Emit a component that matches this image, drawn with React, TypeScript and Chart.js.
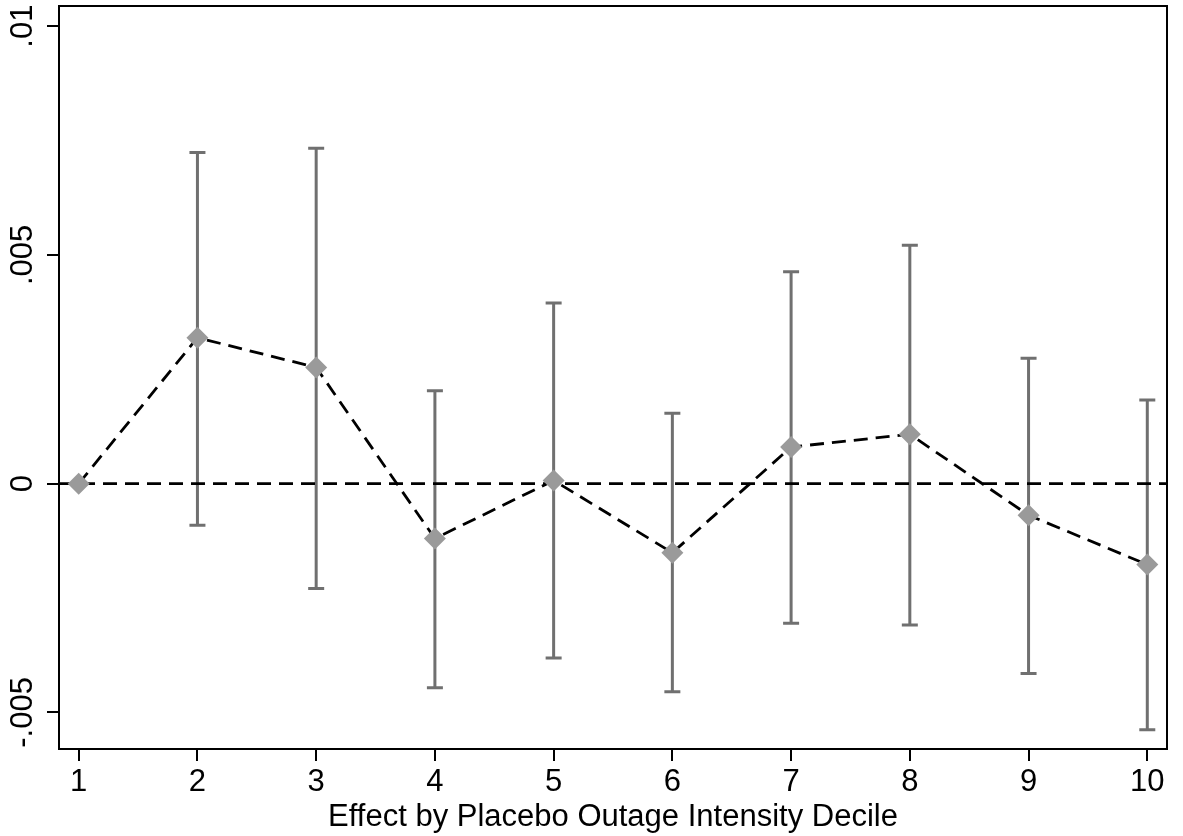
import React, { useEffect, useRef } from 'react';
import { Chart, registerables } from 'chart.js';

Chart.register(...registerables);

// ---- Data ----
const deciles = [1, 2, 3, 4, 5, 6, 7, 8, 9, 10];
const coefficients = [0, 0.00319, 0.00254, -0.0012, 0.00007, -0.00151, 0.0008, 0.00108, -0.00069, -0.00177];
const ciUpper: (number | null)[] = [null, 0.00724, 0.00733, 0.00203, 0.00395, 0.00154, 0.00463, 0.00521, 0.00274, 0.00183];
const ciLower: (number | null)[] = [null, -0.00091, -0.00229, -0.00446, -0.00381, -0.00455, -0.00305, -0.00309, -0.00415, -0.00538];
const xTickValues = [1, 2, 3, 4, 5, 6, 7, 8, 9, 10];
const yTickValues = [-0.005, 0, 0.005, 0.01];
const yTickLabels = ['-.005', '0', '.005', '.01'];
const xAxisTitle = 'Effect by Placebo Outage Intensity Decile';
const xRange = [0.834, 10.166];
const yRange = [-0.0058, 0.01044];

const FONT = '"Liberation Sans", Arial, Helvetica, sans-serif';
const FONT_SIZE = 31;

const errorBarPlugin = {
  id: 'errorBars',
  beforeDatasetsDraw(chart: any) {
    const { ctx, scales } = chart;
    const x = scales.x;
    const y = scales.y;
    ctx.save();
    ctx.strokeStyle = '#707070';
    ctx.lineWidth = 3;
    ctx.lineCap = 'butt';
    deciles.forEach((d, i) => {
      const hi = ciUpper[i];
      const lo = ciLower[i];
      if (hi == null || lo == null) return;
      const px = x.getPixelForValue(d);
      const pHi = y.getPixelForValue(hi);
      const pLo = y.getPixelForValue(lo);
      ctx.beginPath();
      ctx.moveTo(px, pHi);
      ctx.lineTo(px, pLo);
      ctx.moveTo(px - 8, pHi);
      ctx.lineTo(px + 8, pHi);
      ctx.moveTo(px - 8, pLo);
      ctx.lineTo(px + 8, pLo);
      ctx.stroke();
    });
    ctx.restore();
  },
};

const framePlugin = {
  id: 'frameAndYLabels',
  afterDraw(chart: any) {
    const { ctx, chartArea, scales } = chart;
    const y = scales.y;
    ctx.save();
    ctx.strokeStyle = '#000';
    ctx.lineWidth = 2;
    ctx.strokeRect(chartArea.left, chartArea.top, chartArea.right - chartArea.left, chartArea.bottom - chartArea.top);
    ctx.fillStyle = '#000';
    ctx.font = `${FONT_SIZE}px ${FONT}`;
    ctx.textAlign = 'center';
    ctx.textBaseline = 'middle';
    yTickValues.forEach((v, i) => {
      const py = y.getPixelForValue(v);
      ctx.save();
      ctx.translate(23, py);
      ctx.rotate(-Math.PI / 2);
      ctx.fillText(yTickLabels[i], 0, 0);
      ctx.restore();
    });
    ctx.restore();
  },
};

export default function App() {
  const ref = useRef<HTMLCanvasElement | null>(null);

  useEffect(() => {
    document.body.style.margin = '0';
    const canvas = ref.current;
    if (!canvas) return;
    const chart = new Chart(canvas, {
      type: 'line',
      data: {
        datasets: [
          {
            label: 'Effect',
            data: deciles.map((d, i) => ({ x: d, y: coefficients[i] })),
            borderColor: '#000',
            borderWidth: 2.8,
            borderDash: [14, 8],
            pointStyle: 'rectRot',
            pointRadius: 11,
            pointHoverRadius: 11,
            pointBackgroundColor: '#9a9a9a',
            pointBorderColor: '#9a9a9a',
            pointBorderWidth: 0,
            tension: 0,
            fill: false,
          },
          {
            label: 'Zero',
            data: [
              { x: xRange[0], y: 0 },
              { x: xRange[1], y: 0 },
            ],
            borderColor: '#000',
            borderWidth: 2.8,
            borderDash: [14, 8],
            pointRadius: 0,
            tension: 0,
            fill: false,
          },
        ],
      },
      options: {
        responsive: false,
        animation: false,
        events: [],
        layout: { autoPadding: false, padding: { top: 6, right: 16, left: 0, bottom: 0 } },
        plugins: {
          legend: { display: false },
          tooltip: { enabled: false },
        },
        scales: {
          x: {
            type: 'linear',
            min: xRange[0],
            max: xRange[1],
            afterBuildTicks: (scale: any) => {
              scale.ticks = xTickValues.map((v) => ({ value: v }));
            },
            afterFit: (scale: any) => {
              scale.height = 87;
            },
            ticks: {
              color: '#000',
              font: { family: FONT, size: FONT_SIZE },
              padding: 3,
              maxRotation: 0,
              minRotation: 0,
              callback: (v: any) => String(v),
            },
            grid: {
              drawOnChartArea: false,
              drawTicks: true,
              tickLength: 12,
              color: '#000',
              lineWidth: 2,
            },
            border: { display: false },
            title: {
              display: true,
              text: xAxisTitle,
              color: '#000',
              font: { family: FONT, size: FONT_SIZE },
              padding: { top: 0, bottom: 0 },
            },
          },
          y: {
            type: 'linear',
            min: yRange[0],
            max: yRange[1],
            afterBuildTicks: (scale: any) => {
              scale.ticks = yTickValues.map((v) => ({ value: v }));
            },
            afterFit: (scale: any) => {
              scale.width = 59;
            },
            ticks: {
              display: false,
            },
            grid: {
              drawOnChartArea: false,
              drawTicks: true,
              tickLength: 12,
              color: '#000',
              lineWidth: 2,
            },
            border: { display: false },
          },
        },
      },
      plugins: [errorBarPlugin, framePlugin],
    } as any);
    return () => chart.destroy();
  }, []);

  return <canvas ref={ref} width={1183} height={836} style={{ display: 'block' }} />;
}
